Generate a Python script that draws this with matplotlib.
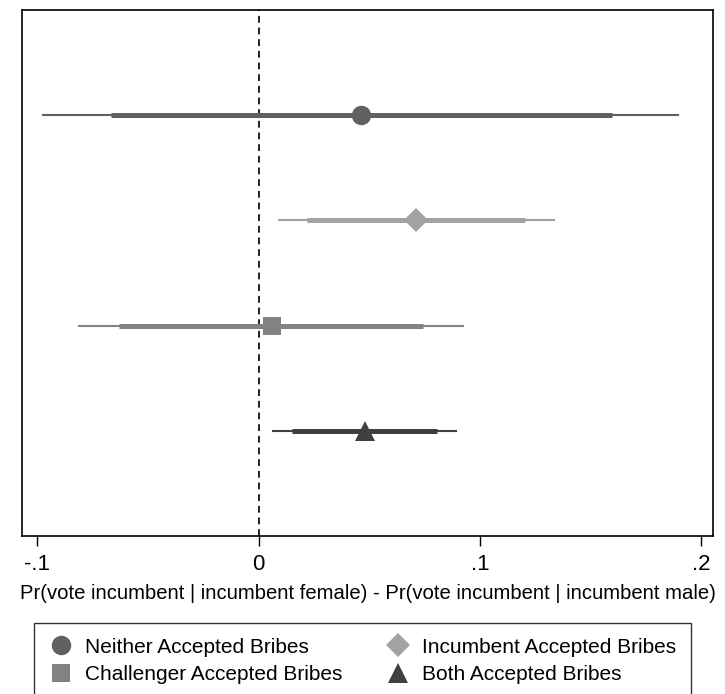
import matplotlib
matplotlib.use("Agg")
import matplotlib.pyplot as plt
from matplotlib.lines import Line2D

plt.rcParams['font.family'] = ['Liberation Sans', 'DejaVu Sans']

# Estimated effects (difference in Pr(vote incumbent)) with 90% / 95% CIs
labels = ['Neither Accepted Bribes', 'Incumbent Accepted Bribes',
          'Challenger Accepted Bribes', 'Both Accepted Bribes']
estimates = [0.0465, 0.0709, 0.0059, 0.0479]
ci95_low = [-0.0977, 0.0086, -0.0813, 0.0063]
ci95_high = [0.1900, 0.1340, 0.0930, 0.0898]
ci90_low = [-0.0668, 0.0221, -0.0628, 0.0153]
ci90_high = [0.1594, 0.1205, 0.0745, 0.0808]

colors = ['#606060', '#a2a2a2', '#828282', '#404040']
markers = ['o', 'D', 's', '^']
msizes = [14, 12, 13.5, 14]

fig = plt.figure(figsize=(7.25, 6.94), dpi=100)
ax = fig.add_axes([0.0303, 0.2277, 0.9531, 0.758])

ypos = [1, 2, 3, 4]
for i in range(len(labels)):
    y = ypos[i]
    ax.plot([ci95_low[i], ci95_high[i]], [y, y], color=colors[i], lw=1.5,
            solid_capstyle='butt', zorder=2)
    ax.plot([ci90_low[i], ci90_high[i]], [y, y], color=colors[i], lw=3.6,
            solid_capstyle='butt', zorder=3)
    ax.plot(estimates[i], y, marker=markers[i], color=colors[i],
            markersize=msizes[i], markeredgewidth=0, linestyle='none', zorder=4)

ax.axvline(0, color='#222222', lw=1.4, linestyle=(0, (3.5, 2.5)), zorder=1)

ax.set_xlim(-0.1068, 0.2052)
ax.set_ylim(5, 0)
ax.set_yticks([])
ax.set_xticks([-0.1, 0, 0.1, 0.2])
ax.set_xticklabels(['-.1', '0', '.1', '.2'])
ax.tick_params(axis='x', length=7.2, width=1, labelsize=16, pad=5.5)
for s in ax.spines.values():
    s.set_linewidth(1.2)
    s.set_color('black')
ax.set_xlabel('Pr(vote incumbent | incumbent female) - Pr(vote incumbent | incumbent male)',
              fontsize=14.6, labelpad=7)

handles = [Line2D([], [], marker=markers[i], color=colors[i], linestyle='none',
                  markersize=msizes[i], markeredgewidth=0) for i in range(len(labels))]
order = [0, 2, 1, 3]
leg = fig.legend([handles[k] for k in order], [labels[k] for k in order],
                 ncol=2, loc='upper center', bbox_to_anchor=(0.5, 1 - 623 / 694),
                 borderaxespad=0, fontsize=15, frameon=True, fancybox=False,
                 edgecolor='black', handletextpad=0.55, columnspacing=2.05,
                 labelspacing=0.4, borderpad=0.7, handlelength=1.2)
leg.get_frame().set_linewidth(1.0)

fig.savefig('out.png', dpi=100)
